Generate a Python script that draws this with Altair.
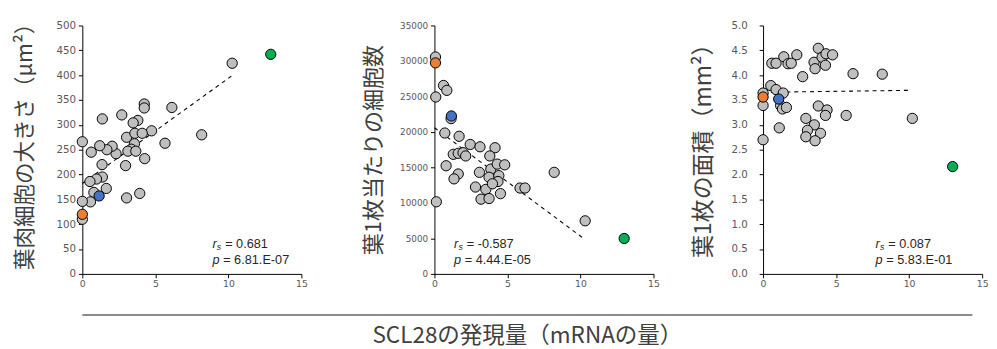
import altair as alt
import pandas as pd

# ---------------- data ----------------
X_TICKS = [0, 5, 10, 15]
HL_COLORS = ["#ED7D31", "#4472C4", "#00B050"]

# panel 1: mesophyll cell size
P1_X = [10.26, 0.0, 1.37, 2.7, 4.24, 4.24, 6.13, 8.17, 5.66, 4.74, 3.8, 3.48, 3.03, 3.6, 4.1,
        3.57, 3.35, 3.12, 3.66, 4.27, 2.96, 2.31, 2.04, 1.68, 1.19, 0.61, 1.35, 1.37, 0.97, 0.52,
        1.64, 0.79, 0.56, 0.0, 3.03, 3.93, 0.0]
P1_Y = [424, 266, 312, 320, 342, 334, 335, 280, 263, 288, 309, 304, 275, 283, 283,
        262, 251, 247, 247, 232, 218, 242, 257, 250, 258, 245, 220, 195, 191, 186,
        172, 164, 145, 146, 153, 162, 110]
P1_HX = [0.0, 1.15, 12.9]
P1_HY = [120, 157, 442]
P1_FIT_X = [0.0, 10.2]
P1_FIT_Y = [182, 398]
P1_TICKS = [0, 50, 100, 150, 200, 250, 300, 350, 400, 450, 500]

# panel 2: cells per leaf
P2_X = [0.07, 0.62, 0.85, 0.09, 1.14, 0.71, 1.69, 2.45, 3.12, 4.15, 1.29, 1.63, 1.96, 2.14, 3.79,
        0.8, 1.63, 1.34, 3.08, 3.86, 4.3, 4.81, 3.74, 4.41, 4.35, 2.81, 3.52, 3.19, 3.74, 4.52,
        5.86, 6.2, 8.2, 10.32, 0.13, 3.97]
P2_Y = [30560, 26550, 25860, 24930, 21880, 19850, 19390, 18240, 17910, 17780, 16850, 16990, 17080,
        16620, 16620, 15240, 14080, 13390, 14310, 14770, 15470, 15370, 13620, 13850, 13020, 12240,
        11910, 10530, 10620, 11310, 12100, 12100, 14310, 7480, 10160, 12700]
P2_HX = [0.07, 1.16, 12.99]
P2_HY = [29730, 22250, 4990]
P2_FIT_X = [0.0, 10.1]
P2_FIT_Y = [20600, 5170]
P2_TICKS = [0, 5000, 10000, 15000, 20000, 25000, 30000, 35000]

# panel 3: leaf area
P3_X = [0, 0, 0, 0.53, 0.89, 1.38, 1.2, 1.33, 1.6, 1.11, 0.6, 0.89, 1.42, 1.71, 1.93, 2.31, 2.71,
        3.78, 3.49, 3.56, 4.04, 4.31, 4.27, 4.76, 6.16, 8.16, 3.78, 4.38, 4.27, 5.69, 10.22, 2.93,
        3.51, 3.04, 2.93, 3.93, 3.56]
P3_Y = [3.64, 3.39, 2.70, 3.79, 3.71, 3.64, 3.39, 3.32, 3.35, 2.94, 4.24, 4.24, 4.37, 4.23, 4.24,
        4.41, 3.97, 4.54, 4.26, 4.13, 4.36, 4.43, 4.20, 4.41, 4.03, 4.02, 3.38, 3.30, 3.19, 3.19,
        3.13, 3.13, 3.00, 2.89, 2.76, 2.83, 2.68]
P3_HX = [0.0, 1.07, 12.98]
P3_HY = [3.56, 3.52, 2.16]
P3_FIT_X = [0.0, 10.0]
P3_FIT_Y = [3.655, 3.695]
P3_TICKS = [0, 0.5, 1.0, 1.5, 2.0, 2.5, 3.0, 3.5, 4.0, 4.5, 5.0]

TITLES = ["葉肉細胞の大きさ（μm²）", "葉1枚当たりの細胞数", "葉1枚の面積（mm²）"]
RS_TEXT = ["= 0.681", "= -0.587", "= 0.087"]
P_TEXT = ["= 6.81.E-07", "= 4.44.E-05", "= 5.83.E-01"]
X_TITLE = "SCL28の発現量（mRNAの量）"

CJK = "Noto Sans CJK JP"
NUM = "DejaVu Sans"
TXT = "Liberation Sans"
W, H = 224, 254


def panel(xs, ys, hx, hy, fx, fy, ticks, ydom, yfmt, ylab_size, ylab_pad, title, title_size,
          rs, pv, ann_x, title_pad, title_y=None):
    grey = pd.DataFrame({"x": xs, "y": ys})
    hl = pd.DataFrame({"x": hx, "y": hy, "c": HL_COLORS})
    fit = pd.DataFrame({"x": fx, "y": fy})
    xsc = alt.Scale(domain=[0, 15], nice=False, zero=False)
    ysc = alt.Scale(domain=ydom, nice=False, zero=False)
    xax = alt.Axis(values=X_TICKS, format="d", title=None, grid=False,
                   labelFont=NUM, labelFontSize=9.5, labelColor="#595959",
                   domainColor="black", tickColor="black", tickSize=4, labelPadding=1,
                   labelFlush=False, labelOverlap=False)
    yargs = dict(values=ticks, format=yfmt, title=title, grid=False,
                 labelFont=NUM, labelFontSize=ylab_size, labelColor="#595959",
                 domainColor="black", tickColor="black", tickSize=4, labelPadding=ylab_pad,
                 labelOverlap=False, labelFlush=False,
                 titleFont=CJK, titleFontSize=title_size, titleFontWeight="normal",
                 titleColor="#404040", titlePadding=title_pad)
    if title_y is not None:
        yargs["titleY"] = title_y
    yax = alt.Axis(**yargs)
    X = alt.X("x:Q", scale=xsc, axis=xax)
    Y = alt.Y("y:Q", scale=ysc, axis=yax)

    line = alt.Chart(fit).mark_line(color="black", strokeDash=[4, 4], strokeWidth=1.1).encode(
        x=X, y=Y)
    pts = alt.Chart(grey).mark_circle(size=110, color="#BFBFBF", opacity=1,
                                      stroke="black", strokeWidth=1).encode(x=X, y=Y)
    hpts = alt.Chart(hl).mark_circle(size=110, opacity=1, stroke="black", strokeWidth=1).encode(
        x=X, y=Y, color=alt.Color("c:N", scale=None))

    ann = pd.DataFrame({"r": ["r"], "s": ["s"], "rs": [rs], "p": ["p"], "pv": [pv]})
    base = alt.Chart(ann)
    t_r = base.mark_text(align="left", baseline="alphabetic", font=TXT, fontSize=13,
                         fontStyle="italic", color="#262626").encode(
        x=alt.value(ann_x), y=alt.value(227), text="r:N")
    t_s = base.mark_text(align="left", baseline="alphabetic", font=TXT, fontSize=9,
                         fontStyle="italic", color="#262626").encode(
        x=alt.value(ann_x + 4.5), y=alt.value(230), text="s:N")
    t_rs = base.mark_text(align="left", baseline="alphabetic", font=TXT, fontSize=13,
                          color="#262626").encode(
        x=alt.value(ann_x + 13), y=alt.value(227), text="rs:N")
    t_p = base.mark_text(align="left", baseline="alphabetic", font=TXT, fontSize=13,
                         fontStyle="italic", color="#262626").encode(
        x=alt.value(ann_x), y=alt.value(244), text="p:N")
    t_pv = base.mark_text(align="left", baseline="alphabetic", font=TXT, fontSize=13,
                          color="#262626").encode(
        x=alt.value(ann_x + 11), y=alt.value(244), text="pv:N")
    return alt.layer(line, pts, hpts, t_r, t_s, t_rs, t_p, t_pv).properties(width=W, height=H)


p1 = panel(P1_X, P1_Y, P1_HX, P1_HY, P1_FIT_X, P1_FIT_Y, P1_TICKS, [0, 500], "d", 10.5, 3,
           TITLES[0], 22, RS_TEXT[0], P_TEXT[0], 133, 20, title_y=118)
p2 = panel(P2_X, P2_Y, P2_HX, P2_HY, P2_FIT_X, P2_FIT_Y, P2_TICKS, [0, 35000], "d", 9, 3,
           TITLES[1], 22.5, RS_TEXT[1], P_TEXT[1], 20, 14)
p3 = panel(P3_X, P3_Y, P3_HX, P3_HY, P3_FIT_X, P3_FIT_Y, P3_TICKS, [0, 5], ".1f", 10.5, 12,
           TITLES[2], 23.5, RS_TEXT[2], P_TEXT[2], 115, 16, title_y=122)

top = alt.hconcat(p1, alt.hconcat(p2, p3, spacing=32), spacing=56)

bt = pd.DataFrame({"t": [X_TITLE]})
rule = alt.Chart(bt).mark_rule(color="#8c8c8c", strokeWidth=2).encode(
    x=alt.value(0), x2=alt.value(910), y=alt.value(0))
xt = alt.Chart(bt).mark_text(font=CJK, fontSize=23, color="#404040", align="center",
                             baseline="middle").encode(
    x=alt.value(455), y=alt.value(22), text="t:N")
bottom = alt.layer(rule, xt).properties(width=910, height=36)

chart = alt.vconcat(top, bottom, spacing=26).properties(
    padding={"left": 5, "top": 0, "right": 0, "bottom": 0}
).configure_view(stroke=None)

chart.save("out.html", embed_options={"renderer": "svg", "actions": False})
